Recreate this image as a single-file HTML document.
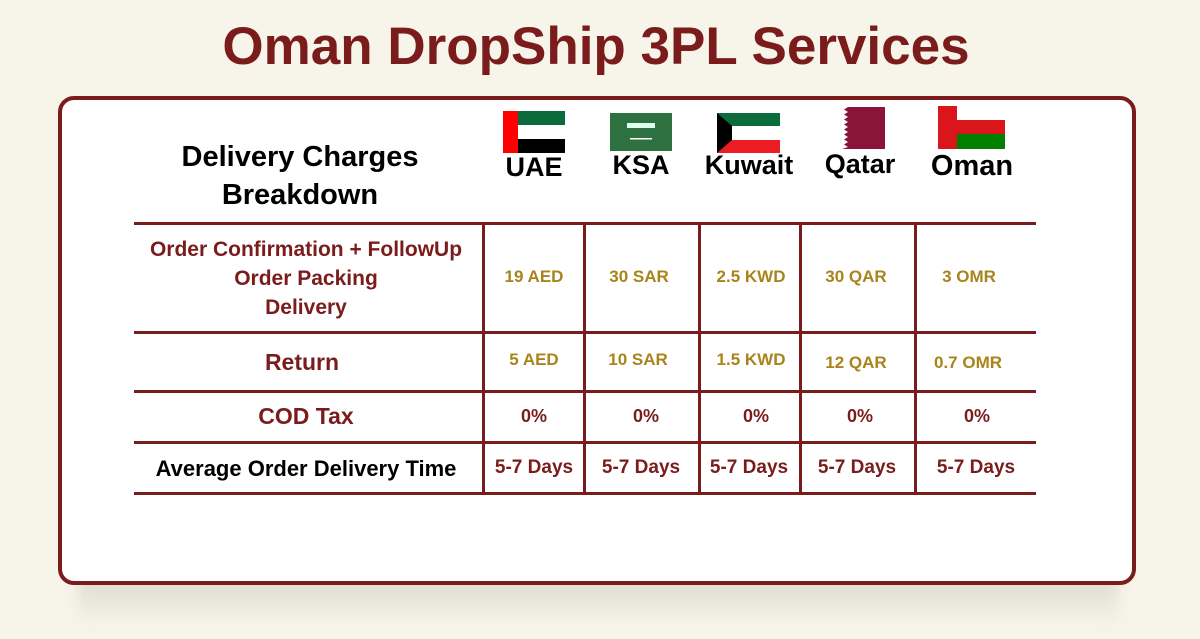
<!DOCTYPE html>
<html><head><meta charset="utf-8"><style>
body{margin:0;width:1200px;height:639px;background:#f7f4ea;position:relative;overflow:hidden;font-family:"Liberation Sans",sans-serif;font-weight:bold}
.a{position:absolute;white-space:nowrap}
.c{transform:translateX(-50%);text-align:center}
.shadow{position:absolute;left:78px;top:560px;width:1040px;height:60px;background:linear-gradient(#d6d3c6,#f2efe4);filter:blur(6px)}
.card{position:absolute;left:58px;top:96px;width:1070px;height:481px;background:#fff;border:4px solid #7a1c1c;border-radius:16px}
.h{position:absolute;left:134px;width:902px;height:3px;background:#7a1c1c}
.v{position:absolute;top:223px;height:271px;width:3px;background:#7a1c1c}
.red{color:#7a1c1c}.gold{color:#a8841a}
</style></head><body>
<div class="a c red" style="left:596px;top:16px;font-size:53px">Oman DropShip 3PL Services</div>
<div class="shadow"></div>
<div class="card"></div>
<div class="a c" style="left:300px;top:138px;font-size:29px;line-height:38px">Delivery Charges<br>Breakdown</div>
<svg class="a" style="left:503px;top:111px" width="62" height="42"><rect width="62" height="14" fill="#0b6b3a"/><rect y="14" width="62" height="14" fill="#fff"/><rect y="28" width="62" height="14" fill="#000"/><rect width="15" height="42" fill="#f00"/></svg>
<svg class="a" style="left:610px;top:113px" width="62" height="38"><rect width="62" height="38" fill="#2e7140"/><rect x="17" y="10" width="28" height="5" fill="#dfe"/><rect x="20" y="25" width="22" height="1.5" fill="#fff"/></svg>
<svg class="a" style="left:717px;top:113px" width="63" height="40"><rect width="63" height="13" fill="#0b6b3a"/><rect y="13" width="63" height="14" fill="#fff"/><rect y="27" width="63" height="13" fill="#ee1c25"/><polygon points="0,0 15,13 15,27 0,40" fill="#000"/></svg>
<svg class="a" style="left:842px;top:107px" width="43" height="42"><rect x="0" width="43" height="42" fill="#8a1538"/><polygon points="0,0 6,0 2,2.5 6,5 2,7.5 6,10 2,12.5 6,15 2,17.5 6,20 2,22.5 6,25 2,27.5 6,30 2,32.5 6,35 2,37.5 6,40 0,42" fill="#fff"/></svg>
<svg class="a" style="left:938px;top:106px" width="67" height="43"><rect width="67" height="43" fill="#db161b"/><rect x="19" y="28" width="48" height="15" fill="#008000"/><rect x="19" width="48" height="14" fill="#fff"/></svg>
<div class="a c" style="left:534px;top:152px;font-size:27px">UAE</div>
<div class="a c" style="left:641px;top:150px;font-size:27px">KSA</div>
<div class="a c" style="left:749px;top:150px;font-size:27px">Kuwait</div>
<div class="a c" style="left:860px;top:149px;font-size:27px">Qatar</div>
<div class="a c" style="left:972px;top:150px;font-size:29px">Oman</div>
<div class="h" style="top:222px"></div><div class="h" style="top:331px"></div><div class="h" style="top:390px"></div><div class="h" style="top:441px"></div><div class="h" style="top:492px"></div>
<div class="v" style="left:482px"></div><div class="v" style="left:583px"></div><div class="v" style="left:698px"></div><div class="v" style="left:799px"></div><div class="v" style="left:914px"></div>
<div class="a c red" style="left:306px;top:235px;font-size:21px;line-height:29px">Order Confirmation + FollowUp<br>Order Packing<br>Delivery</div>
<div class="a c red" style="left:302px;top:349px;font-size:23px">Return</div>
<div class="a c red" style="left:306px;top:403px;font-size:23px">COD Tax</div>
<div class="a c" style="left:306px;top:456px;font-size:22px">Average Order Delivery Time</div>
<div class="a c gold" style="left:534px;top:267px;font-size:17px">19 AED</div>
<div class="a c gold" style="left:639px;top:267px;font-size:17px">30 SAR</div>
<div class="a c gold" style="left:751px;top:267px;font-size:17px">2.5 KWD</div>
<div class="a c gold" style="left:856px;top:267px;font-size:17px">30 QAR</div>
<div class="a c gold" style="left:969px;top:267px;font-size:17px">3 OMR</div>
<div class="a c gold" style="left:534px;top:350px;font-size:17px">5 AED</div>
<div class="a c gold" style="left:638px;top:350px;font-size:17px">10 SAR</div>
<div class="a c gold" style="left:751px;top:350px;font-size:17px">1.5 KWD</div>
<div class="a c gold" style="left:856px;top:353px;font-size:17px">12 QAR</div>
<div class="a c gold" style="left:968px;top:353px;font-size:17px">0.7 OMR</div>
<div class="a c red" style="left:534px;top:406px;font-size:18px">0%</div>
<div class="a c red" style="left:646px;top:406px;font-size:18px">0%</div>
<div class="a c red" style="left:756px;top:406px;font-size:18px">0%</div>
<div class="a c red" style="left:860px;top:406px;font-size:18px">0%</div>
<div class="a c red" style="left:977px;top:406px;font-size:18px">0%</div>
<div class="a c red" style="left:534px;top:457px;font-size:19px">5-7 Days</div>
<div class="a c red" style="left:641px;top:457px;font-size:19px">5-7 Days</div>
<div class="a c red" style="left:749px;top:457px;font-size:19px">5-7 Days</div>
<div class="a c red" style="left:857px;top:457px;font-size:19px">5-7 Days</div>
<div class="a c red" style="left:976px;top:457px;font-size:19px">5-7 Days</div>
</body></html>
